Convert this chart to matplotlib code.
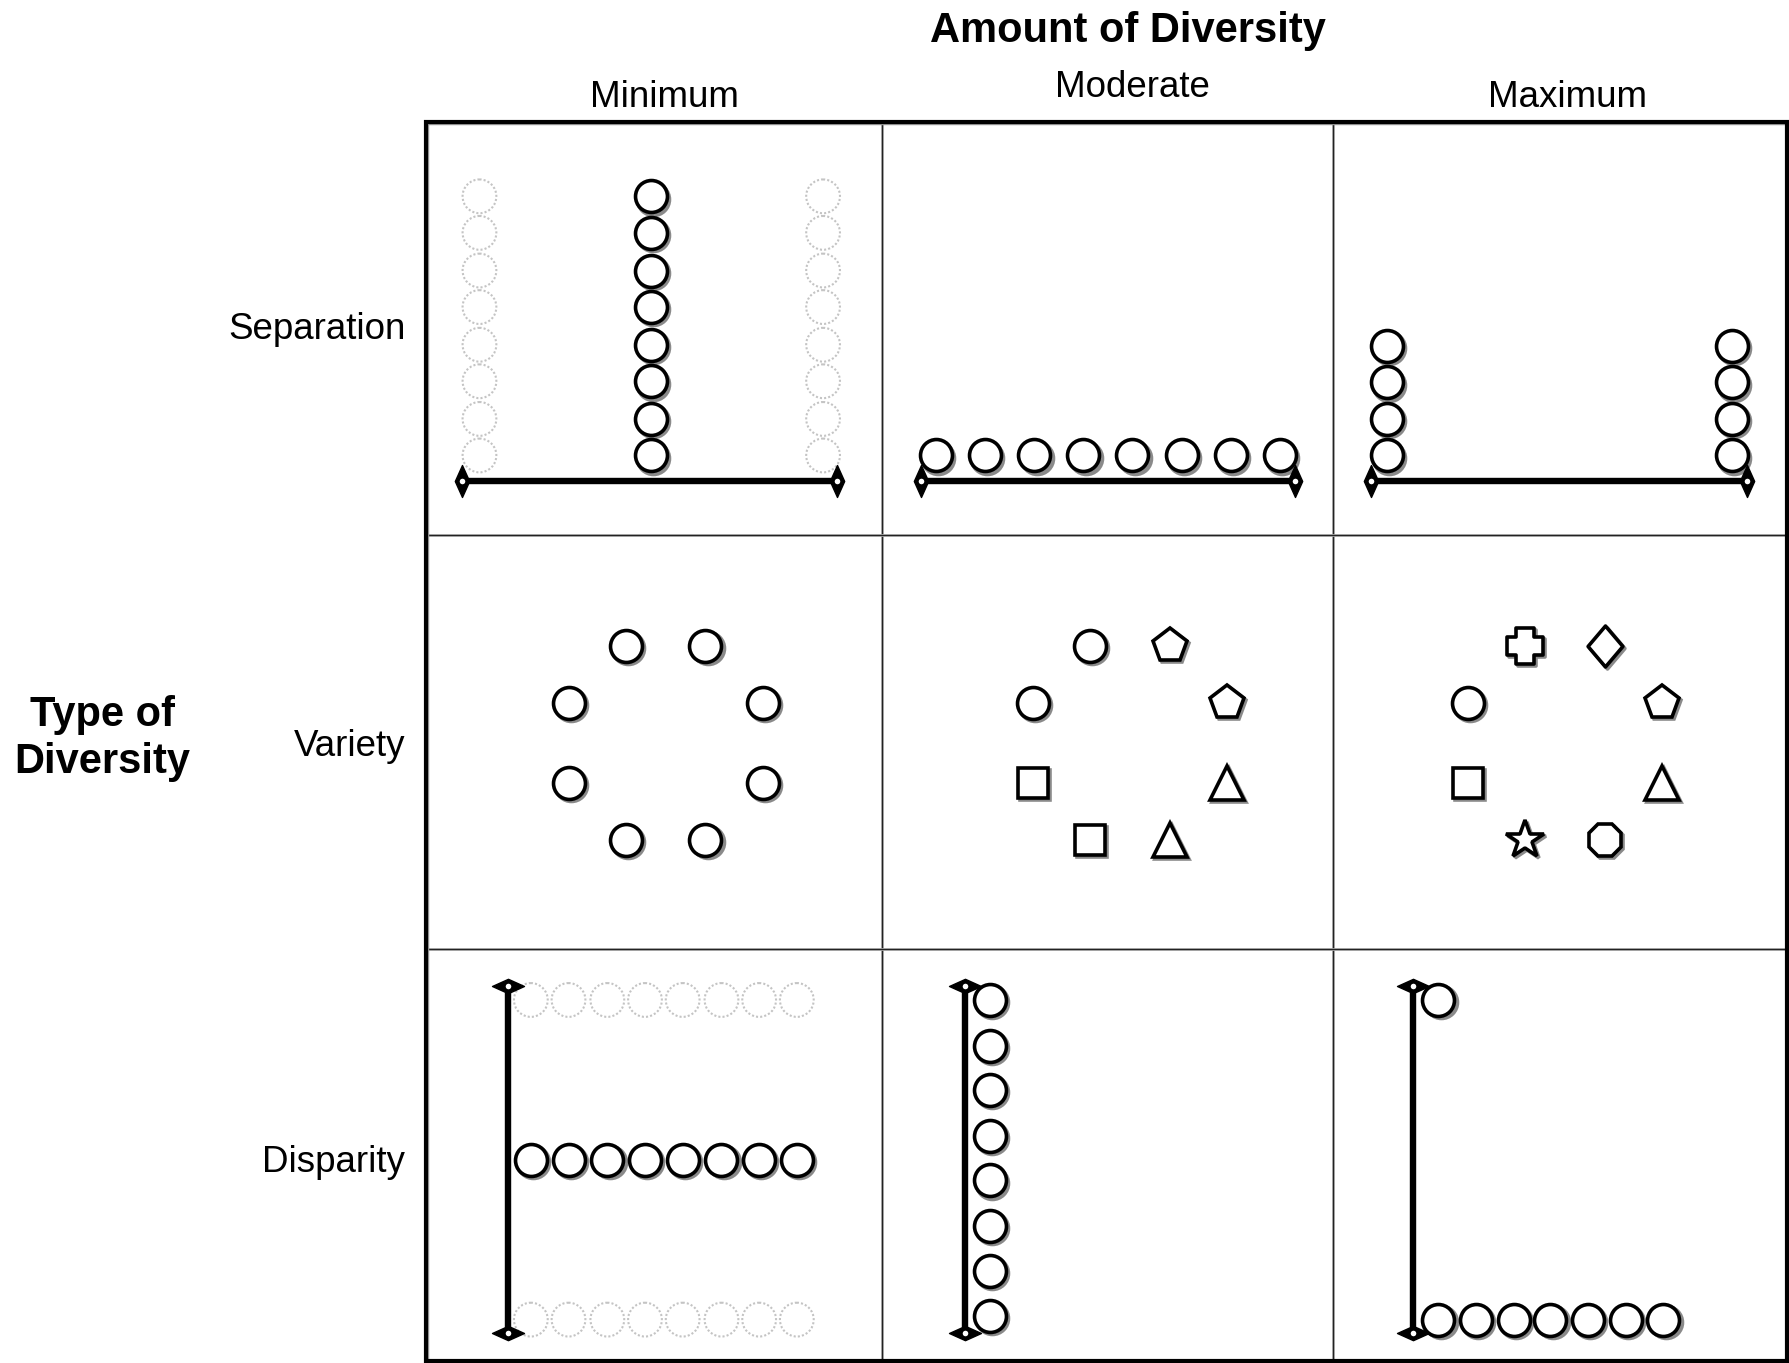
import matplotlib
matplotlib.use('Agg')
import matplotlib.pyplot as plt
from matplotlib.patches import Circle, Rectangle
from matplotlib.path import Path

plt.rcParams['font.family'] = ['Liberation Sans', 'DejaVu Sans']

# labels
col_labels = ['Minimum', 'Moderate', 'Maximum']
row_labels = ['Separation', 'Variety', 'Disparity']

# separation row (circle centres)
sep_col_y = [172, 204, 237, 269, 302, 334, 367, 399]
sep_min_x = 570
sep_ghost_x = [420, 721]
sep_mod_x = [820, 863, 906, 949, 992, 1035, 1078, 1121]
sep_mod_y = 399
sep_max_x = [1215, 1517]
sep_max_y = [303, 335, 367, 399]
sep_lines = [(405, 733), (807, 1134), (1201, 1530)]
sep_line_y = 421

# variety row: centres of the rings and shapes going clockwise from top-left
var_centres = [583, 990, 1371]
var_cy = 651
var_dx = [-35, 35, 85, 85, 35, -35, -85, -85]
var_dy = [-85, -85, -35, 35, 85, 85, 35, -35]
var_shapes = [
    ['o', 'o', 'o', 'o', 'o', 'o', 'o', 'o'],
    ['o', 'p', 'p', '^', '^', 's', 's', 'o'],
    ['cross', 'diamond', 'p', '^', '8', '*', 's', 'o'],
]

# disparity row
disp_min_x = [465, 498, 532, 565, 598, 632, 665, 698]
disp_min_y = 1016
disp_ghost_y = [876, 1156]
disp_mod_x = 867
disp_mod_y = [876, 916, 955, 995, 1034, 1074, 1113, 1153]
disp_max_top = (1260, 876)
disp_max_x = [1260, 1293, 1326, 1358, 1391, 1424, 1457]
disp_max_y = 1156
disp_lines_x = [445, 845, 1238]
disp_line_y = (864, 1168)

# custom marker shapes
cross = Path([(-0.25, 0.5), (0.25, 0.5), (0.25, 0.25), (0.5, 0.25), (0.5, -0.25),
              (0.25, -0.25), (0.25, -0.5), (-0.25, -0.5), (-0.25, -0.25),
              (-0.5, -0.25), (-0.5, 0.25), (-0.25, 0.25), (-0.25, 0.5)], closed=True)
diamond = Path([(0, 1), (0.85, 0), (0, -1), (-0.85, 0), (0, 1)], closed=True)
head_v = Path([(0, 1), (0.45, 0), (0, -1), (-0.45, 0), (0, 1)], closed=True)
head_h = Path([(1, 0), (0, 0.45), (-1, 0), (0, -0.45), (1, 0)], closed=True)
marker_map = {'cross': cross, 'diamond': diamond}
marker_size = {'o': 23, 'p': 25.5, '^': 24.5, 's': 21.5, '8': 25.5, '*': 29, 'cross': 25.5, 'diamond': 29.5}

fig = plt.figure(figsize=(17.9, 13.63), dpi=100)
ax = fig.add_axes([0, 0, 1, 1])
ax.set_xlim(0, 1568)
ax.set_ylim(1194, 0)
ax.axis('off')


def shape(x, y, m='o'):
    mk = marker_map.get(m, m)
    ms = marker_size[m]
    ax.plot(x + 2, y + 2, marker=mk, ms=ms, mfc='#8a8a8a', mec='#8a8a8a', mew=2.6, ls='none', zorder=3)
    ax.plot(x, y, marker=mk, ms=ms, mfc='white', mec='black', mew=2.6, ls='none', zorder=4)


def ghost(x, y):
    ax.add_patch(Circle((x, y), 14.8, fill=False, ec='#c4c4c4', lw=1.5, ls=(0, (1, 1)), zorder=2))


def hline(x0, x1, y):
    ax.plot([x0, x1], [y, y], color='black', lw=4.6, zorder=5, solid_capstyle='butt')
    ax.plot([x0, x1], [y, y], marker=head_v, ms=23, color='black', ls='none', zorder=6)
    ax.plot([x0, x1], [y, y], marker='o', ms=4, mfc='white', mec='white', mew=0, ls='none', zorder=7)


def vline(x, y0, y1):
    ax.plot([x, x], [y0, y1], color='black', lw=4.6, zorder=5, solid_capstyle='butt')
    ax.plot([x, x], [y0, y1], marker=head_h, ms=23, color='black', ls='none', zorder=6)
    ax.plot([x, x], [y0, y1], marker='o', ms=4, mfc='white', mec='white', mew=0, ls='none', zorder=7)


# grid
left, right, top, bottom = 373, 1565, 106.5, 1192
xs = [773, 1167.5]
ys = [468.5, 831]
for x in xs:
    ax.plot([x, x], [top, bottom], color='#a0a0a0', lw=2.0, zorder=1)
    ax.plot([x, x], [top, bottom], color='#222222', lw=0.8, zorder=1)
for y in ys:
    ax.plot([left, right], [y, y], color='#a0a0a0', lw=2.0, zorder=1)
    ax.plot([left, right], [y, y], color='#222222', lw=0.8, zorder=1)
ax.add_patch(Rectangle((left + 1, top + 1), right - left, bottom - top, fill=False,
                       ec='#9a9a9a', lw=3.2, zorder=1))
ax.add_patch(Rectangle((left, top), right - left, bottom - top, fill=False,
                       ec='black', lw=3.0, zorder=2, joinstyle='miter'))

# separation
for y in sep_col_y:
    for gx in sep_ghost_x:
        ghost(gx, y)
    shape(sep_min_x, y)
for x in sep_mod_x:
    shape(x, sep_mod_y)
for x in sep_max_x:
    for y in sep_max_y:
        shape(x, y)
for x0, x1 in sep_lines:
    hline(x0, x1, sep_line_y)

# variety
for cx, shapes in zip(var_centres, var_shapes):
    for dx, dy, m in zip(var_dx, var_dy, shapes):
        shape(cx + dx, var_cy + dy, m)

# disparity
for x in disp_min_x:
    for gy in disp_ghost_y:
        ghost(x, gy)
    shape(x, disp_min_y)
for y in disp_mod_y:
    shape(disp_mod_x, y)
shape(*disp_max_top)
for x in disp_max_x:
    shape(x, disp_max_y)
for x in disp_lines_x:
    vline(x, *disp_line_y)

# text
ax.text(988, 27, 'Amount of Diversity', ha='center', va='center', fontsize=30, fontweight='bold')
for x, y, t in zip([582, 992, 1373], [85, 77, 85], col_labels):
    ax.text(x, y, t, ha='center', va='center', fontsize=26.5)
for y, t in zip([289, 654, 1018], row_labels):
    ax.text(355, y, t, ha='right', va='center', fontsize=26.5)
ax.text(90, 647, 'Type of\nDiversity', ha='center', va='center', fontsize=30,
        fontweight='bold', linespacing=1.2)

fig.savefig('out.png', dpi=100)
